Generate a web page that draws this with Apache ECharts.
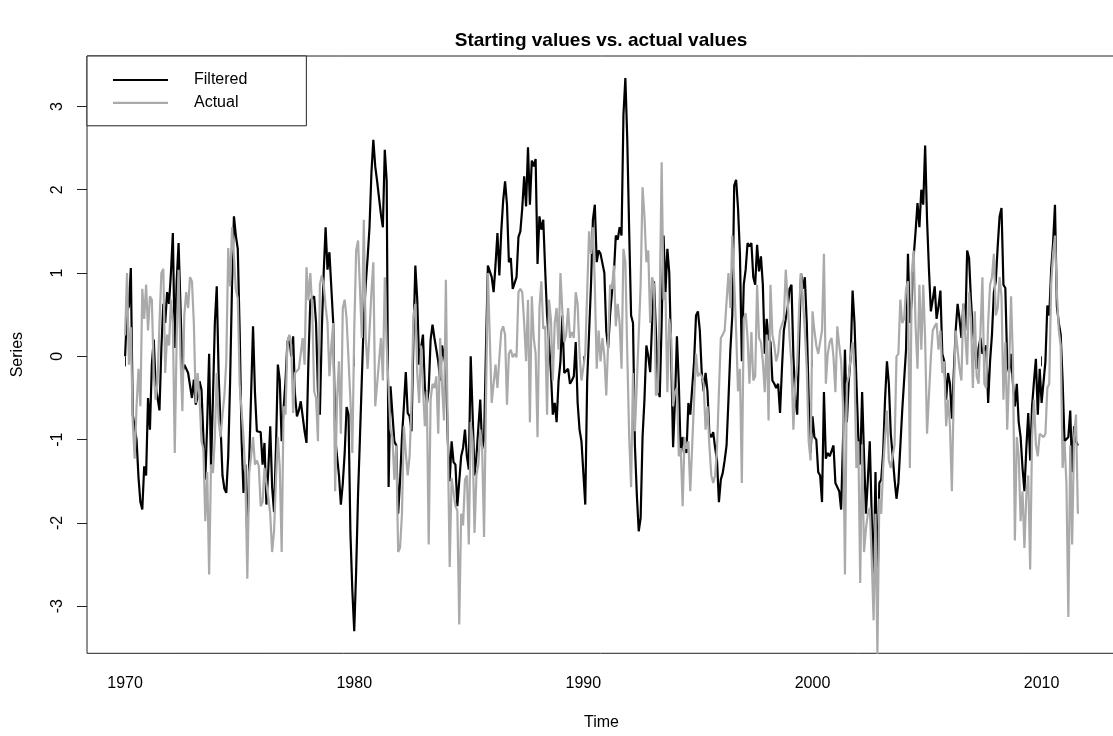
<!DOCTYPE html>
<html>
<head>
<meta charset="utf-8">
<title>Starting values vs. actual values</title>
<script src="https://cdn.jsdelivr.net/npm/echarts@6/dist/echarts.min.js"></script>
<style>
  html, body { margin: 0; padding: 0; background: #fff; }
  #chart { width: 1113px; height: 736px; }
</style>
</head>
<body>
<div id="chart"></div>
<script>
// monthly series, Jan 1970 onwards
const startYear = 1970
const freq = 12
const xTicks = [1970, 1980, 1990, 2000, 2010]
const yTicks = [-3, -2, -1, 0, 1, 2, 3]

const filtered = [
  0.00, 0.55, 0.60, 1.06, -0.70, -0.85, -1.00, -1.45, -1.75, -1.84,
  -1.32, -1.43, -0.50, -0.88, -0.10, 0.20, -0.35, -0.50, -0.65, 0.10,
  0.63, 0.40, 0.77, 0.63, 1.00, 1.48, 0.10, 0.90, 1.36, 0.60,
  -0.20, -0.10, -0.15, -0.20, -0.35, -0.50, -0.28, -0.58, -0.48, -0.30,
  -0.40, -0.97, -1.48, -0.80, 0.03, -1.34, -0.50, 0.40, 0.84, -0.24,
  -0.84, -1.43, -1.59, -1.64, -1.20, -0.29, 0.86, 1.68, 1.45, 1.29,
  0.30, -1.00, -1.64, -1.30, -2.21, -1.25, -1.23, 0.36, -0.43, -0.90,
  -0.90, -0.91, -1.30, -1.04, -1.78, -1.36, -0.84, -1.57, -1.87, -1.11,
  -0.10, -0.29, -1.02, -0.63, -0.30, 0.17, 0.24, 0.00, 0.24, -0.47,
  -0.72, -0.65, -0.54, -0.72, -0.90, -1.04, -0.06, 0.67, 0.67, 0.72,
  0.40, -0.42, -0.70, 0.30, 1.00, 1.55, 1.04, 1.25, 1.23, 0.40,
  -0.97, -1.20, -1.43, -1.78, -1.53, -1.16, -0.61, -0.70, -2.12, -2.81,
  -3.30, -2.58, -1.66, -0.97, -0.95, 0.45, 0.86, 1.18, 1.55, 2.20,
  2.60, 2.28, 2.10, 1.90, 1.70, 1.55, 2.48, 2.10, -1.57, -0.36,
  -0.38, -1.02, -1.07, -1.89, -1.50, -0.97, -0.60, -0.19, -0.68, -0.72,
  -0.90, 0.20, 1.09, 0.68, -0.10, 0.10, 0.26, -0.38, -0.58, -0.40,
  0.20, 0.38, 0.22, 0.20, -0.06, -0.29, 0.13, 0.15, -0.13, -1.00,
  -1.50, -1.02, -1.27, -1.30, -1.80, -1.80, -1.20, -1.10, -0.88, -1.20,
  -1.36, 0.00, -0.70, -1.43, -1.20, -1.20, -0.52, -1.11, -1.00, 0.10,
  1.09, 1.07, 0.95, 0.77, 1.10, 1.48, 0.97, 1.50, 1.87, 2.10,
  1.82, 1.13, 1.18, 0.81, 0.79, 0.95, 1.43, 1.50, 1.78, 2.16,
  1.80, 2.51, 1.82, 2.35, 2.28, 2.37, 1.11, 1.68, 1.52, 1.64,
  1.04, 0.49, 0.17, -0.19, -0.70, -0.56, -0.79, -0.30, -0.06, 0.49,
  -0.20, -0.20, -0.15, -0.33, -0.29, -0.24, 0.17, -0.56, -0.88, -1.02,
  -1.40, -1.78, -0.29, -0.29, 0.86, 1.64, 1.82, 1.13, 1.27, 1.23,
  1.25, 1.00, 0.30, 0.10, 0.50, 0.77, 1.00, 1.45, 1.40, 1.55,
  1.45, 2.90, 3.34, 2.60, 1.50, 0.49, 0.40, -1.07, -1.66, -2.10,
  -1.94, -0.97, -0.52, 0.13, 0.00, -0.19, 0.40, 0.90, 0.30, -0.38,
  -0.49, 0.40, 1.45, 0.77, 1.29, 1.00, 0.00, -1.09, -0.52, 0.24,
  -0.33, -1.20, -0.97, -0.97, -1.16, -0.56, -0.70, -0.70, -0.06, 0.49,
  0.54, 0.31, -0.20, -0.42, -0.20, -0.42, -0.93, -0.97, -0.91, -1.10,
  -1.25, -1.75, -1.48, -1.40, -1.25, -1.07, -0.52, 0.08, 0.49, 2.05,
  2.12, 1.78, 1.23, -0.06, 0.86, 1.04, 1.36, 1.32, 1.36, 0.95,
  0.86, 1.34, 1.02, 1.20, 0.86, 0.03, 0.45, 0.22, 0.17, -0.29,
  -0.33, -0.38, -0.33, -0.68, -0.15, 0.31, 0.45, 0.58, 0.81, 0.86,
  0.00, -0.52, -0.70, -0.72, 1.00, 0.81, 0.95, 0.40, -0.50, -1.16,
  -0.72, -0.97, -1.00, -1.39, -1.43, -1.75, -0.43, -1.23, -1.16, -1.20,
  -1.20, -1.07, -1.52, -1.54, -1.62, -1.84, -1.00, 0.08, -0.79, -0.30,
  0.00, 0.79, 0.40, -0.30, -0.97, -1.30, -0.43, -1.20, -1.89, -1.48,
  -1.02, -1.89, -2.72, -1.39, -2.85, -1.52, -1.48, -1.16, -0.52, -0.06,
  -0.33, -0.93, -1.20, -1.48, -1.71, -1.52, -1.52, -0.65, -0.67, 0.08,
  1.23, 0.40, 0.68, 1.20, 1.50, 1.84, 1.55, 2.00, 1.82, 2.53,
  1.64, 1.04, 0.54, 0.68, 0.84, 0.45, 0.60, 0.79, 0.03, -0.06,
  -0.52, -0.20, -0.33, -0.75, -0.20, 0.31, 0.63, 0.45, 0.22, 0.63,
  0.31, 1.27, 1.18, 0.68, 0.31, 0.10, -0.15, 0.10, 0.22, 0.03,
  0.08, 0.13, -0.56, -0.06, 0.26, 0.77, 0.90, 1.32, 1.68, 1.78,
  0.86, 0.82, -0.10, -0.20, 0.03, -0.33, -0.60, -0.33, -0.79, -0.97,
  -1.34, -1.62, -1.10, -0.68, -1.25, -0.60, -0.30, -0.03, -0.70, -0.15,
  -0.56, -0.56, -0.06, 0.61, 0.49, 1.04, 1.36, 1.82, 0.60, 0.40,
  0.26, -0.29, -1.02, -1.04, -0.97, -0.65, -1.39, -0.84, -1.02, -1.07
]

const actual = [
  0.25, 1.00, -0.10, 0.35, -0.79, -1.23, -0.60, -0.15, -0.60, 0.81,
  0.45, 0.86, 0.31, 0.72, 0.68, -0.20, -0.52, -0.30, 0.40, 1.00,
  1.05, -0.20, 0.26, 0.13, 0.68, 0.40, -1.16, 0.20, 1.04, 0.00,
  -0.66, 0.49, 0.77, 0.58, 0.95, 0.90, 0.40, -0.56, -0.20, -0.52,
  -1.02, -1.11, -1.98, -1.39, -2.62, -1.30, -1.40, -0.97, -0.20, -0.79,
  -0.97, -0.70, -0.47, -0.06, 1.30, 0.84, 1.55, 1.20, 0.80, 0.70,
  -0.33, -0.35, -0.97, -1.43, -2.67, -1.39, -1.20, -0.97, -1.30, -1.25,
  -1.32, -1.80, -1.75, -1.34, -1.53, -1.70, -1.89, -2.35, -2.10, -1.50,
  -0.97, -1.34, -2.35, -0.60, -0.70, 0.17, 0.26, 0.13, -0.68, -0.20,
  -0.18, -0.15, -0.15, 0.22, -0.10, 1.07, 0.67, 1.00, 0.58, -0.42,
  -0.50, -1.02, 0.86, 0.97, 0.86, 0.60, 0.40, -0.24, 0.13, 0.40,
  -1.62, -0.52, -0.06, -0.93, 0.58, 0.68, 0.45, 0.45, -0.52, -1.16,
  0.30, 1.27, 1.39, 1.41, 0.22, 1.64, 0.22, -0.15, 0.30, 0.77,
  1.13, -0.60, -0.33, -0.33, 0.22, -0.29, 0.95, 0.13, -0.38, -0.88,
  -0.97, -1.48, -1.07, -2.35, -2.30, -1.89, -0.84, -1.16, -1.43, -1.20,
  -0.56, 0.49, 0.63, -0.20, -0.56, 0.13, -0.38, -0.84, -0.42, -2.26,
  -0.52, -0.33, -0.38, -0.24, -0.93, 0.22, -0.35, -0.77, 0.92, -1.00,
  -2.53, -1.46, -1.48, -1.80, -1.85, -3.22, -1.89, -2.03, -1.48, -1.43,
  -2.26, -0.79, -1.02, -2.12, -1.43, -1.30, -0.88, -1.11, -2.17, -0.52,
  1.00, 0.22, -0.56, -0.58, -0.10, -0.38, -0.02, 0.30, 0.36, 0.26,
  -0.58, 0.03, 0.08, -0.01, 0.03, -0.01, 0.77, 0.81, 0.77, 0.40,
  -0.06, 0.68, -0.79, 0.72, 0.22, 0.03, -0.97, 0.58, 0.90, 0.33,
  0.36, -0.70, 0.68, 0.45, -0.29, 0.40, 0.58, 0.08, 1.00, 0.54,
  0.17, 0.26, 0.58, 0.22, 0.29, 0.22, 0.77, 0.63, 0.03, -0.29,
  -0.29, 0.03, 0.77, 1.50, 1.23, 1.55, 0.86, -0.15, 0.31, -0.06,
  0.22, 0.00, -0.47, 0.17, 0.86, 0.81, 1.09, 0.36, 0.63, 0.40,
  -0.15, 1.29, 1.13, 0.03, -0.97, -1.57, -0.20, -0.90, -0.33, -0.33,
  0.86, 2.03, 1.68, 1.13, 1.27, 0.40, 0.95, 0.86, -0.47, -0.43,
  0.63, 2.33, 0.68, 0.77, -0.43, 0.45, 0.22, -0.60, -0.43, -0.38,
  -1.20, -1.10, -1.80, -0.97, -1.11, -1.02, -1.62, -1.07, -0.52, 0.03,
  -0.24, -0.20, -0.24, -0.33, -0.88, -0.60, -1.07, -1.43, -1.52, -1.43,
  -1.11, -0.42, 0.22, 0.26, 0.31, 0.31, 1.00, 0.58, 1.45, 0.90,
  0.31, -0.42, -0.15, -1.52, 0.45, 0.52, 0.22, -0.33, 0.29, -0.29,
  -0.24, 0.86, 0.22, 0.17, -0.06, -0.43, 0.26, -0.77, 0.86, 0.26,
  0.13, -0.06, 0.03, 0.31, 0.31, 0.45, 1.04, 0.68, 0.22, -0.10,
  -0.88, -0.33, -0.10, 0.58, 1.00, 0.68, 0.31, -0.15, -1.02, -1.25,
  0.54, 0.31, 0.13, 0.03, 0.17, 0.31, 1.23, -0.33, 0.03, 0.17,
  0.22, -0.01, -0.43, 0.36, 0.13, -0.06, -0.60, -2.62, -0.33, -0.24,
  0.00, 0.17, -0.15, -1.34, -1.02, -2.72, -1.06, -2.35, -2.07, -1.89,
  -1.82, -2.40, -3.17, -1.89, -3.57, -1.71, -1.89, -1.34, -0.97, -0.65,
  -1.25, -1.34, -1.34, -1.06, 0.00, 0.03, 0.68, 0.40, 0.45, 0.81,
  0.90, -1.34, 1.00, 1.27, 0.36, -0.15, 0.86, 0.08, 0.86, 0.20,
  -0.93, -0.95, -0.01, 0.31, 0.36, 0.40, 0.08, 0.31, -0.20, -0.06,
  -0.84, -0.52, -0.84, -1.62, -0.43, 0.31, 0.08, -0.15, -0.29, 0.63,
  0.63, -0.10, 0.77, 0.45, -0.38, 0.54, -0.24, -0.33, 0.31, 0.95,
  -0.33, -0.38, 0.40, 0.86, 0.95, 1.23, 0.49, 0.58, 0.95, 0.72,
  -0.52, 0.17, -0.88, -0.15, 0.72, -0.06, -2.21, -0.97, -1.20, -1.98,
  -1.62, -2.30, -1.66, -1.43, -2.56, -0.97, -0.52, -1.06, -1.20, -0.93,
  -0.95, -0.97, -0.93, -0.38, -0.33, 0.86, 1.23, 1.45, 0.77, 0.31,
  0.13, -1.34, -1.02, -1.53, -3.13, -1.07, -2.26, -0.97, -0.70, -1.89
]

// pair each value with its time stamp (start + month / 12)
const toPairs = (vals) => vals.map((v, i) => [startYear + i / freq, v])

// axis limits like R: data range of the first series plus 4% each side
const tEnd = startYear + (filtered.length - 1) / freq
const xPad = (tEnd - startYear) * 0.04
const yLo = Math.min(...filtered)
const yHi = Math.max(...filtered)
const yPad = (yHi - yLo) * 0.04

const font = 'Liberation Sans, Arial, Helvetica, sans-serif'
const lineW = 2.2

const chart = echarts.init(document.getElementById('chart'), null, { renderer: 'canvas' })

chart.setOption({
  animation: false,
  backgroundColor: '#fff',
  title: {
    text: 'Starting values vs. actual values',
    left: 601,
    top: 31,
    padding: 0,
    textAlign: 'center',
    textStyle: { fontFamily: font, fontSize: 19, fontWeight: 'bold', color: '#000' }
  },
  legend: {
    orient: 'vertical',
    left: 87,
    top: 56,
    padding: [16, 59, 15, 26],
    icon: 'rect',
    itemWidth: 55,
    itemHeight: lineW,
    itemGap: 6.8,
    borderColor: '#222',
    borderWidth: 1,
    borderRadius: 0,
    backgroundColor: '#fff',
    textStyle: { fontFamily: font, fontSize: 16, color: '#000', lineHeight: 14, padding: [0, 0, 0, 21] },
    data: ['Filtered', 'Actual']
  },
  grid: {
    left: 87,
    top: 56,
    right: -3,
    bottom: 82.7,
    show: true,
    borderColor: '#222',
    borderWidth: 1,
    containLabel: false,
    outerBoundsMode: 'none'
  },
  xAxis: {
    type: 'value',
    min: startYear - xPad,
    max: tEnd + xPad,
    name: 'Time',
    nameLocation: 'middle',
    nameGap: 61,
    nameTextStyle: { fontFamily: font, fontSize: 16, color: '#000' },
    axisLine: { show: false },
    axisTick: { show: true, length: 10, lineStyle: { color: '#222' }, customValues: xTicks },
    axisLabel: {
      fontFamily: font, fontSize: 16, color: '#000', margin: 22,
      customValues: xTicks,
      formatter: (v) => String(Math.round(v))
    },
    splitLine: { show: false }
  },
  yAxis: {
    type: 'value',
    min: yLo - yPad,
    max: yHi + yPad,
    name: 'Series',
    nameLocation: 'middle',
    nameGap: 61,
    nameTextStyle: { fontFamily: font, fontSize: 16, color: '#000' },
    axisLine: { show: false },
    axisTick: { show: true, length: 10, lineStyle: { color: '#222' }, customValues: yTicks },
    axisLabel: {
      fontFamily: font, fontSize: 16, color: '#000', margin: 21, rotate: 90,
      customValues: yTicks,
      formatter: (v) => String(Math.round(v))
    },
    splitLine: { show: false }
  },
  series: [
    {
      name: 'Filtered',
      type: 'line',
      data: toPairs(filtered),
      symbol: 'none',
      color: '#000',
      lineStyle: { color: '#000', width: lineW },
      z: 2
    },
    {
      name: 'Actual',
      type: 'line',
      data: toPairs(actual),
      symbol: 'none',
      color: '#aaaaaa',
      lineStyle: { color: '#aaaaaa', width: lineW },
      z: 3
    }
  ]
})
</script>
</body>
</html>
